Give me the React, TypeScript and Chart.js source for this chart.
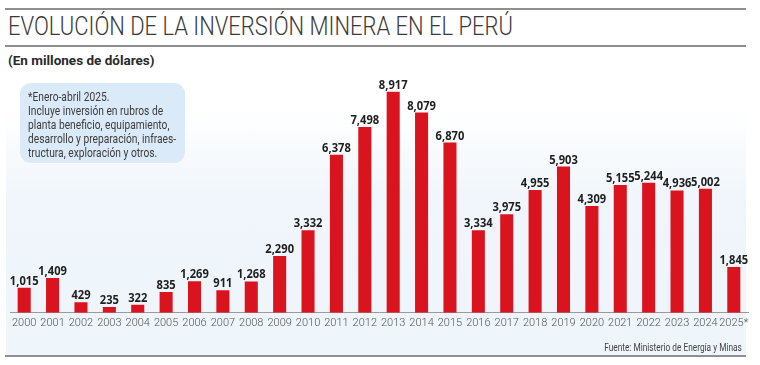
import React, { useEffect, useRef } from "react";
import { Chart, registerables } from "chart.js";

Chart.register(...registerables);

const years = [
  "2000", "2001", "2002", "2003", "2004", "2005", "2006", "2007", "2008",
  "2009", "2010", "2011", "2012", "2013", "2014", "2015", "2016", "2017",
  "2018", "2019", "2020", "2021", "2022", "2023", "2024", "2025*",
];
const investment = [
  1015, 1409, 429, 235, 322, 835, 1269, 911, 1268, 2290, 3332, 6378, 7498,
  8917, 8079, 6870, 3334, 3975, 4955, 5903, 4309, 5155, 5244, 4936, 5002, 1845,
];
const yMax = 10000;
const titleText = "EVOLUCIÓN DE LA INVERSIÓN MINERA EN EL PERÚ";
const subtitleText = "(En millones de dólares)";
const noteLines = [
  "*Enero-abril 2025.",
  "Incluye inversión en rubros de",
  "planta beneficio, equipamiento,",
  "desarrollo y preparación, infraes-",
  "tructura, exploración y otros.",
];
const sourceText = "Fuente: Ministerio de Energía y Minas";

const BAR_RED = "#d9141e";
const fmt = (v: number) => v.toLocaleString("en-US");

const valueLabels = {
  id: "valueLabels",
  afterDatasetsDraw(chart: any) {
    const ctx = chart.ctx;
    const meta = chart.getDatasetMeta(0);
    const data = chart.data.datasets[0].data as number[];
    ctx.save();
    ctx.font = "bold 12px 'Open Sans'";
    ctx.fillStyle = "#1e1e1e";
    ctx.textAlign = "center";
    ctx.textBaseline = "alphabetic";
    meta.data.forEach((el: any, i: number) => {
      ctx.save();
      ctx.translate(el.x, el.y - 3);
      ctx.scale(0.93, 1);
      ctx.fillText(fmt(data[i]), 0, 0);
      ctx.restore();
    });
    ctx.restore();
  },
};

export default function App() {
  const canvasRef = useRef<HTMLCanvasElement | null>(null);

  useEffect(() => {
    if (!canvasRef.current) return;
    const chart = new Chart(canvasRef.current, {
      type: "bar",
      data: {
        labels: years,
        datasets: [
          {
            data: investment,
            backgroundColor: BAR_RED,
            borderWidth: 0,
            categoryPercentage: 1,
            barPercentage: 0.46,
          },
        ],
      },
      options: {
        animation: false,
        responsive: false,
        maintainAspectRatio: false,
        layout: { padding: { left: 10, right: 12, top: 65, bottom: 31 } },
        plugins: {
          legend: { display: false },
          tooltip: { enabled: false },
        },
        scales: {
          x: {
            grid: { display: false, drawTicks: false },
            border: { display: true, color: "#9a9a9a", width: 1 },
            ticks: {
              color: "#555",
              font: { family: "Roboto", size: 11, weight: "300" as any },
              padding: 4,
              maxRotation: 0,
              autoSkip: false,
            },
          },
          y: {
            display: false,
            min: 0,
            max: yMax,
          },
        },
      },
      plugins: [valueLabels],
    });
    return () => chart.destroy();
  }, []);

  const line = (top: number) => (
    <div
      style={{
        position: "absolute",
        left: 5,
        top,
        width: 741,
        height: 1.5,
        background: "#8f8f8f",
      }}
    />
  );

  return (
    <div
      style={{
        position: "absolute",
        left: 0,
        top: 0,
        width: 760,
        height: 365,
        background: "#ffffff",
        overflow: "hidden",
        fontFamily: "Roboto, sans-serif",
      }}
    >
      <div
        style={{
          position: "absolute",
          left: 6,
          top: 110,
          width: 740,
          height: 246,
          background:
            "linear-gradient(to bottom, rgba(238,245,251,0) 0%, #f0f6fb 35%, #eef5fb 100%)",
        }}
      />
      {line(8)}
      <div
        style={{
          position: "absolute",
          left: 8,
          top: 11,
          fontSize: 26,
          fontWeight: 300,
          color: "#3a3a3a",
          whiteSpace: "nowrap",
          transform: "scaleX(0.845)",
          transformOrigin: "left top",
          lineHeight: "30px",
        }}
      >
        {titleText}
      </div>
      {line(45)}
      <div
        style={{
          position: "absolute",
          left: 8,
          top: 51,
          fontSize: 13.5,
          fontWeight: 700,
          color: "#2a2a2a",
          whiteSpace: "nowrap",
          lineHeight: "18px",
        }}
      >
        {subtitleText}
      </div>
      <canvas
        ref={canvasRef}
        width={760}
        height={365}
        style={{ position: "absolute", left: 0, top: 0, width: 760, height: 365 }}
      />
      <div
        style={{
          position: "absolute",
          left: 20,
          top: 83,
          width: 165,
          height: 80,
          borderRadius: 11,
          background: "#dbeaf8",
        }}
      >
        <div
          style={{
            position: "absolute",
            left: 8,
            top: 7,
            fontSize: 12.2,
            fontWeight: 400,
            color: "#3c3c3c",
            lineHeight: "14px",
            whiteSpace: "nowrap",
            transform: "scaleX(0.84)",
            transformOrigin: "left top",
          }}
        >
          {noteLines.map((t, i) => (
            <div key={i}>{t}</div>
          ))}
        </div>
      </div>
      <div
        style={{
          position: "absolute",
          right: 18,
          top: 341,
          fontSize: 10,
          color: "#444",
          whiteSpace: "nowrap",
          transform: "scaleX(0.83)",
          transformOrigin: "right top",
          lineHeight: "13px",
        }}
      >
        {sourceText}
      </div>
      {line(355)}
    </div>
  );
}
